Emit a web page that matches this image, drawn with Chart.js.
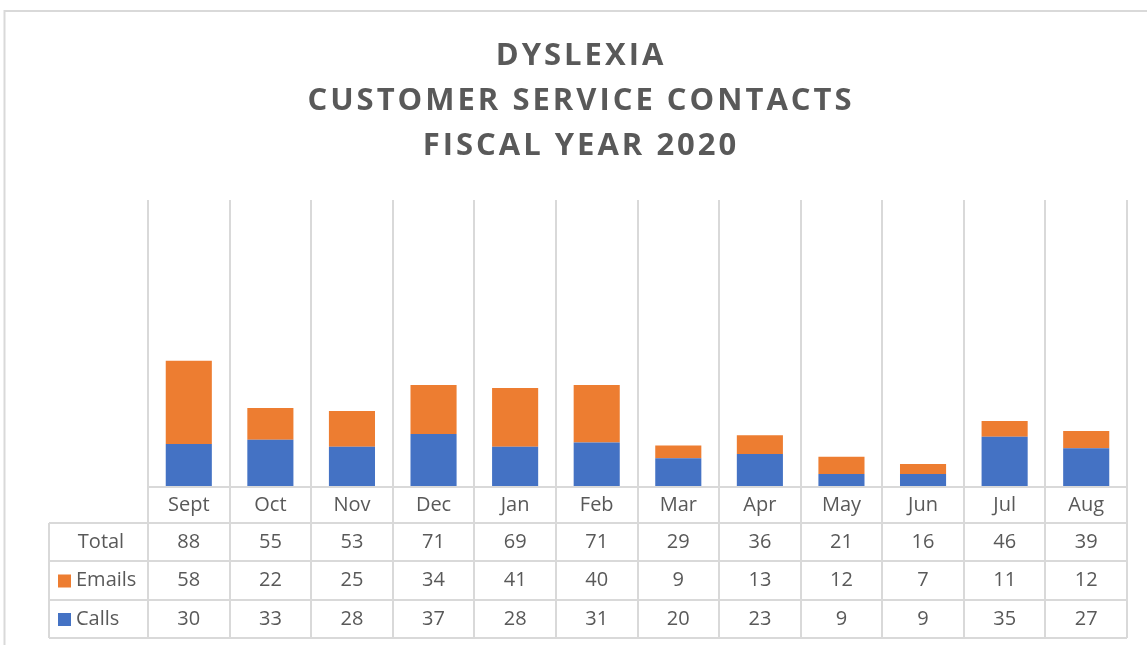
<!DOCTYPE html>
<html>
<head>
<meta charset="utf-8">
<script src="https://cdn.jsdelivr.net/npm/chart.js@4"></script>
<style>
  html, body { margin: 0; padding: 0; background: #fff; }
  #wrap { width: 1147px; height: 645px; position: relative; }
</style>
</head>
<body>
<div id="wrap"><canvas id="myChart"></canvas></div>
<script>
const months = ['Sept', 'Oct', 'Nov', 'Dec', 'Jan', 'Feb', 'Mar', 'Apr', 'May', 'Jun', 'Jul', 'Aug'];
const calls = [30, 33, 28, 37, 28, 31, 20, 23, 9, 9, 35, 27];
const emails = [58, 22, 25, 34, 41, 40, 9, 13, 12, 7, 11, 12];
const totals = [88, 55, 53, 71, 69, 71, 29, 36, 21, 16, 46, 39];
const titleLines = ['DYSLEXIA', 'CUSTOMER SERVICE CONTACTS', 'FISCAL YEAR 2020'];

const textColor = '#595959';
const lineColor = '#d9d9d9';
const blue = '#4472C4';
const orange = '#ED7D31';

// outer frame + title
const framePlugin = {
  id: 'frame',
  beforeDraw(chart) {
    const c = chart.ctx;
    c.save();
    c.strokeStyle = lineColor;
    c.lineWidth = 2;
    c.beginPath();
    c.moveTo(4.5, chart.height);
    c.lineTo(4.5, 11);
    c.lineTo(chart.width, 11);
    c.stroke();

    c.fillStyle = textColor;
    c.font = 'bold 31px "Open Sans"';
    c.textAlign = 'center';
    c.textBaseline = 'middle';
    if ('letterSpacing' in c) c.letterSpacing = '3px';
    titleLines.forEach((t, i) => c.fillText(t, 581, 56 + i * 45));
    c.restore();
  }
};

// data table under the axis
const tablePlugin = {
  id: 'dataTable',
  afterDraw(chart) {
    const c = chart.ctx;
    const x = chart.scales.x;
    const area = chart.chartArea;
    const half = (x.getPixelForValue(1) - x.getPixelForValue(0)) / 2;
    const left = area.left, right = area.right;
    const legLeft = 49;
    const rows = [area.bottom, 523, 561, 600, 638];
    const series = [
      { label: 'Total', values: totals, color: null },
      { label: 'Emails', values: emails, color: orange },
      { label: 'Calls', values: calls, color: blue }
    ];

    c.save();
    c.strokeStyle = lineColor;
    c.lineWidth = 2;
    c.beginPath();
    // horizontal lines
    c.moveTo(left, rows[0]); c.lineTo(right, rows[0]);
    for (let r = 1; r < rows.length; r++) {
      c.moveTo(legLeft, rows[r]); c.lineTo(right, rows[r]);
    }
    // verticals
    c.moveTo(legLeft, rows[1]); c.lineTo(legLeft, rows[4]);
    for (let i = 0; i <= months.length; i++) {
      const px = Math.round(x.getPixelForValue(i) - half);
      c.moveTo(px, rows[0]); c.lineTo(px, rows[4]);
    }
    c.stroke();

    c.fillStyle = textColor;
    c.font = '20px "Open Sans"';
    c.textAlign = 'center';
    c.textBaseline = 'middle';
    months.forEach((m, i) => {
      c.fillText(m, x.getPixelForValue(i), (rows[0] + rows[1]) / 2);
    });
    series.forEach((s, r) => {
      const cy = (rows[r + 1] + rows[r + 2]) / 2;
      s.values.forEach((v, i) => c.fillText(String(v), x.getPixelForValue(i), cy));
      if (s.color) {
        c.fillStyle = s.color;
        c.fillRect(58, cy - 6, 13, 13);
        c.fillStyle = textColor;
        c.textAlign = 'left';
        c.fillText(s.label, 76, cy);
        c.textAlign = 'center';
      } else {
        c.fillText(s.label, 101, cy);
      }
    });
    c.restore();
  }
};

const ctx = document.getElementById('myChart').getContext('2d');

const myChart = new Chart(ctx, {
  type: 'bar',
  data: {
    labels: months,
    datasets: [{
      label: 'Calls',
      data: calls,
      backgroundColor: blue,
      stack: 's'
    }, {
      label: 'Emails',
      data: emails,
      backgroundColor: orange,
      stack: 's'
    }, {
      label: 'Total',
      data: totals,
      backgroundColor: 'rgba(0,0,0,0)',
      stack: 's'
    }]
  },
  options: {
    responsive: true,
    maintainAspectRatio: false,
    animation: false,
    datasets: {
      bar: {
        categoryPercentage: 1,
        barPercentage: 0.565
      }
    },
    scales: {
      x: {
        stacked: true,
        offset: true,
        grid: {
          display: true,
          offset: true,
          color: lineColor,
          lineWidth: 2,
          drawTicks: false
        },
        border: {
          display: true,
          color: lineColor,
          width: 2
        },
        ticks: {
          display: false
        }
      },
      y: {
        stacked: true,
        display: false,
        min: 0,
        max: 200
      }
    },
    plugins: {
      legend: { display: false },
      tooltip: { enabled: false },
      title: { display: false }
    },
    layout: {
      padding: {
        left: 148,
        right: 20,
        top: 200,
        bottom: 158
      }
    }
  },
  plugins: [framePlugin, tablePlugin]
});
</script>
</body>
</html>
